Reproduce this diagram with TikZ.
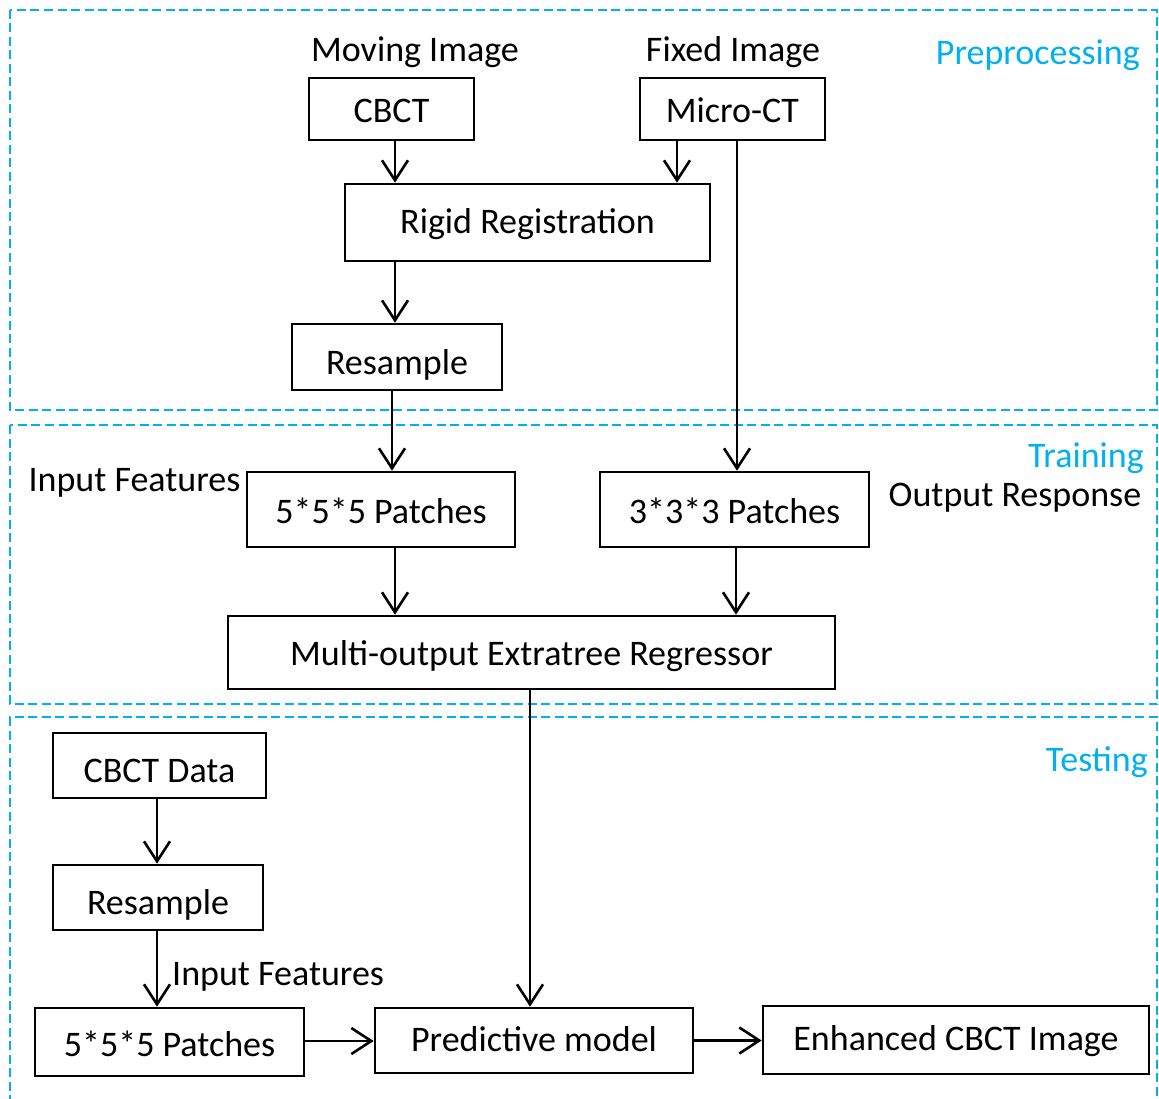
\documentclass[tikz,border=0pt]{standalone}
\usepackage{fontspec}
\setmainfont{Carlito}
\usetikzlibrary{arrows.meta}
\definecolor{frameblue}{RGB}{0,176,240}
\begin{document}
\begin{tikzpicture}[x=1pt,y=-1pt,
  every node/.style={font=\fontsize{36}{42}\selectfont, text depth=0pt},
  box/.style={draw=black, line width=2.6pt, rectangle, inner sep=0pt},
  lbl/.style={inner sep=0pt, text height=24.5pt},
  sect/.style={inner sep=0pt, text height=24.5pt, text=frameblue},
  frame/.style={draw=frameblue, line width=2.6pt, dash pattern=on 9pt off 4.5pt},
  arr/.style={line width=2.6pt, -{Straight Barb[length=20pt,width=26pt,line width=2.6pt]}}
]
\useasboundingbox (0,0) rectangle (1159,1099);
% frames
\draw[frame] (10,10) rectangle (1157,410);
\draw[frame] (10,425) rectangle (1157,704);
\draw[frame] (10,1104) -- (10,717) -- (1157,717) -- (1157,1104);
% section titles
\node[sect, anchor=east] (tpre) at (1140,52.5) {Preprocessing};
\node[sect, anchor=east] (ttrain) at (1144,455) {Training};
\node[sect, anchor=east] (ttest) at (1148,759) {Testing};
% labels
\node[lbl] (lmov) at (415,49) {Moving Image};
\node[lbl] (lfix) at (733,49) {Fixed Image};
\node[lbl] (lin1) at (134.5,479.5) {Input Features};
\node[lbl] (lout) at (1015,494.5) {Output Response};
\node[lbl, anchor=west] (lin2) at (172,973) {Input Features};
% boxes
\node[box, minimum width=165, minimum height=62, text height=28pt] (cbct) at (391.5,109) {CBCT};
\node[box, minimum width=185, minimum height=62, text height=28pt] (micro) at (732.5,109) {Micro-CT};
\node[box, minimum width=365, minimum height=77, text height=22.5pt] (rigid) at (527.5,222.5) {Rigid Registration};
\node[box, minimum width=210, minimum height=66, text height=34pt] (res1) at (397,357) {Resample};
\node[box, minimum width=268, minimum height=75, text height=27.5pt] (p555) at (381,509.5) {5*5*5 Patches};
\node[box, minimum width=269, minimum height=75, text height=27.5pt] (p333) at (734.5,509.5) {3*3*3 Patches};
\node[box, minimum width=607, minimum height=73, text height=26.5pt] (extra) at (531.5,652.5) {Multi-output Extratree Regressor};
\node[box, minimum width=213, minimum height=65, text height=33.5pt] (cdata) at (159.5,765.5) {CBCT Data};
\node[box, minimum width=210, minimum height=65, text height=33.5pt] (res2) at (158,897.5) {Resample};
\node[box, minimum width=269, minimum height=68, text height=28pt] (p555b) at (169.5,1042) {5*5*5 Patches};
\node[box, minimum width=318, minimum height=65, text height=21pt] (pred) at (534,1040.5) {Predictive model};
\node[box, minimum width=386, minimum height=68, text height=21pt] (enh) at (956,1040) {Enhanced CBCT Image};
% connectors
\draw[arr] ([xshift=3.5]cbct.south) -- ([xshift=3.5]cbct.south |- rigid.north);
\draw[arr] ([xshift=-55.5]micro.south) -- ([xshift=-55.5]micro.south |- rigid.north);
\draw[arr] ([xshift=4.5]micro.south) -- ([xshift=4.5]micro.south |- p333.north);
\draw[arr] ([xshift=-2]res1.north |- rigid.south) -- ([xshift=-2]res1.north);
\draw[arr] ([xshift=-5]res1.south) -- ([xshift=-5]res1.south |- p555.north);
\draw[arr] ([xshift=14]p555.south) -- ([xshift=14]p555.south |- extra.north);
\draw[arr] ([xshift=1.5]p333.south) -- ([xshift=1.5]p333.south |- extra.north);
\draw[arr] ([xshift=-1.5]extra.south) -- ([xshift=-1.5]extra.south |- pred.north);
\draw[arr] ([xshift=-2.5]cdata.south) -- ([xshift=-2.5]cdata.south |- res2.north);
\draw[arr] ([xshift=-1]res2.south) -- ([xshift=-1]res2.south |- p555b.north);
\draw[arr] ([yshift=1]p555b.east) -- ([yshift=1]p555b.east -| pred.west);
\draw[arr] (pred.east) -- (pred.east -| enh.west);
\end{tikzpicture}
\end{document}
